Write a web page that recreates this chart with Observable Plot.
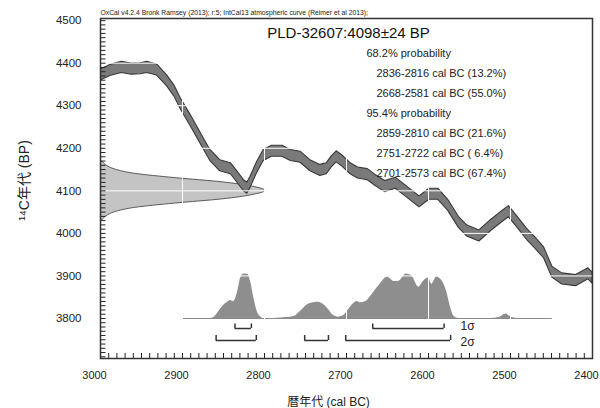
<!DOCTYPE html>
<html><head><meta charset="utf-8">
<script src="https://cdn.jsdelivr.net/npm/d3@7"></script>
<script src="https://cdn.jsdelivr.net/npm/@observablehq/plot@0.6"></script>
<style>html,body{margin:0;padding:0;background:#fff;overflow:hidden} svg{display:block}</style>
</head><body><div id="chart"></div>
<script>
// Calibration curve (IntCal13) centre, cal BC vs 14C BP
const curveYears = [3000,2988,2974,2962,2951,2943,2931,2919,2910,2902,2890,2874,2866,2854,2841,2833,2825,2821,2817,2809,2801,2791,2778,2768,2756,2744,2732,2724,2718,2712,2705,2695,2686,2674,2665,2653,2640,2628,2611,2599,2588,2576,2563,2553,2538,2524,2511,2502,2493,2480,2470,2459,2449,2437,2420,2405,2400];
const curveBP    = [4372,4383,4390,4386,4387,4390,4384,4359,4335,4304,4265,4210,4183,4159,4152,4132,4112,4106,4120,4155,4183,4193,4193,4183,4179,4159,4148,4152,4168,4180,4170,4152,4142,4138,4125,4110,4118,4100,4074,4092,4092,4066,4026,4006,3994,4018,4038,4051,4030,3998,3978,3954,3909,3893,3889,3905,3895];
const curveHalfWidth = 13;

// Calibrated probability distribution (relative)
const calYears = [2900,2866,2860,2854,2846,2841,2838,2833,2829,2825,2820,2817,2813,2809,2805,2801,2790,2777,2764,2756,2748,2740,2734,2728,2722,2716,2710,2703,2699,2693,2687,2683,2677,2669,2659,2650,2642,2636,2627,2620,2612,2606,2600,2596,2590,2583,2578,2573,2569,2563,2525,2513,2506,2499,2490,2449];
const calProb  = [0,0,.05,.2,.35,.4,.37,.57,.9,.99,.98,.82,.46,.16,.04,0,0,.015,.045,.16,.3,.35,.36,.31,.2,.07,.03,.07,.16,.3,.38,.35,.37,.53,.76,.92,.82,.83,.99,.94,.7,.83,.9,.76,.92,.82,.61,.24,.05,0,0,.03,.1,.03,0,0];

// Radiocarbon measurement distribution (relative)
const measBP   = [4032,4040,4050,4060,4070,4080,4090,4100,4110,4120,4130,4140,4150,4160,4168];
const measProb = [.015,.035,.09,.21,.45,.74,.92,1,.92,.74,.45,.21,.09,.035,.015];

// Ranges
const sigma1 = [[2836,2816],[2668,2581]];
const sigma2 = [[2859,2810],[2751,2722],[2701,2573]];

const xTicks = [3000,2900,2800,2700,2600,2500,2400];
const yTicks = [3800,3900,4000,4100,4200,4300,4400,4500];

const header = "OxCal v4.2.4 Bronk Ramsey (2013); r:5; IntCal13 atmospheric curve (Reimer et al 2013);";
const title = "PLD-32607:4098\u00B124 BP";
const probLabels = ["68.2% probability","2836-2816 cal BC (13.2%)","2668-2581 cal BC (55.0%)","95.4% probability","2859-2810 cal BC (21.6%)","2751-2722 cal BC ( 6.4%)","2701-2573 cal BC (67.4%)"];
const sigmaLabels = ["1\u03C3","2\u03C3"];
const xLabel = "暦年代 (cal BC)";
const yLabel = "\u00B9\u2074C年代 (BP)";

const Y0 = 3706, Y1 = 4505;
const pxPerBP = 340 / (Y1 - Y0);
const pxPerYr = 492 / 600;

const curve = curveYears.map((x, i) => ({x, y: curveBP[i]}));
const cal = calYears.map((x, i) => ({x, p: calProb[i]}));
const meas = measBP.map((y, i) => ({y, p: measProb[i]}));
const calScale = 45 / pxPerBP;      // peak height in BP units
const measScale = 165 / pxPerYr;    // peak width in years

const font = "'Liberation Sans', Arial, 'Noto Sans CJK JP', sans-serif";
const ink = "#222";

const bracketMarks = (ranges, yLine, yTop) => [
  Plot.ruleY(ranges, {y: () => yLine, x1: d => d[0], x2: d => d[1], stroke: "#333", strokeWidth: 1.5}),
  Plot.ruleX(ranges.flat(), {x: d => d, y1: () => yLine, y2: () => yTop, stroke: "#333", strokeWidth: 1.5})
];

const txt = (s, o) => Plot.text([s], {frameAnchor: "top-left", textAnchor: "start", lineAnchor: "middle", fill: ink, ...o});

const chart = Plot.plot({
  width: 600, height: 408,
  marginLeft: 100, marginRight: 8, marginTop: 18, marginBottom: 50,
  x: {type: "linear", domain: [3000, 2400], axis: null},
  y: {type: "linear", domain: [Y0, Y1], axis: null},
  style: {fontFamily: font, background: "#fff", color: ink},
  marks: [
    Plot.ruleY([3800], {x1: 2900, x2: 2449, stroke: "#8a8a8a", strokeWidth: 1}),
    Plot.areaY(cal, {x: "x", y1: 3800, y2: d => 3800 + d.p * calScale, fill: "#8e8e8e", curve: "monotone-x"}),
    Plot.areaX(meas, {y: "y", x1: 3000, x2: d => 3000 - d.p * measScale, fill: "#c4c4c4", stroke: "#5a5a5a", strokeWidth: 1, curve: "monotone-y", clip: true}),
    Plot.areaY(curve, {x: "x", y1: d => d.y - curveHalfWidth, y2: d => d.y + curveHalfWidth, fill: "#7a7a7a", stroke: "#383838", strokeWidth: 1.1, clip: true}),
    Plot.ruleX([2900,2800,2700,2600,2500], {stroke: "#fff", strokeWidth: 1}),
    Plot.ruleY([3900,4000,4100,4200,4300,4400], {stroke: "#fff", strokeWidth: 1}),
    ...bracketMarks(sigma1, 3800 - 10 / pxPerBP, 3800 - 5.5 / pxPerBP),
    ...bracketMarks(sigma2, 3800 - 22 / pxPerBP, 3800 - 17 / pxPerBP),
    txt(sigmaLabels[0], {dx: 360, dy: 308, fontSize: 12}),
    txt(sigmaLabels[1], {dx: 360, dy: 324, fontSize: 12}),
    // ticks (inward)
    Plot.ruleX(d3.range(2410, 3000, 10), {x: d => d, y1: () => Y0, y2: () => Y0 + 5 / pxPerBP, stroke: "#222", strokeWidth: 1}),
    Plot.link(d3.range(3710, 4505, 10), {y1: d => d, y2: d => d, x1: () => 3000, x2: () => 3000 - 5 / pxPerYr, stroke: "#222", strokeWidth: 1}),
    Plot.frame({stroke: "#333", strokeWidth: 1.5}),
    // tick labels
    Plot.text(xTicks, {x: d => d, text: d => String(d), frameAnchor: "bottom", lineAnchor: "middle", textAnchor: "middle", dy: 17, dx: -6, fontSize: 11, fill: ink}),
    Plot.text(yTicks, {y: d => d, text: d => String(d), frameAnchor: "left", lineAnchor: "middle", textAnchor: "end", dx: -19, fontSize: 11.5, fill: ink}),
    // axis titles
    Plot.text([xLabel], {frameAnchor: "bottom-left", textAnchor: "middle", lineAnchor: "middle", dx: 228, dy: 44, fontSize: 12, fill: ink}),
    Plot.text([yLabel], {frameAnchor: "left", textAnchor: "middle", lineAnchor: "middle", dx: -76, dy: -8, rotate: -90, fontSize: 14, fill: ink}),
    // header and title
    txt(header, {dy: -6, fontSize: 6.8}),
    Plot.text([title], {frameAnchor: "top-left", textAnchor: "middle", lineAnchor: "middle", dx: 248, dy: 15, fontSize: 15, fill: "#111"}),
    ...probLabels.map((t, i) => txt(t, {dx: t.includes("probability") ? 266 : 276, dy: 35 + 20 * i, fontSize: 11}))
  ]
});
document.getElementById("chart").appendChild(chart);
</script>
</body></html>
